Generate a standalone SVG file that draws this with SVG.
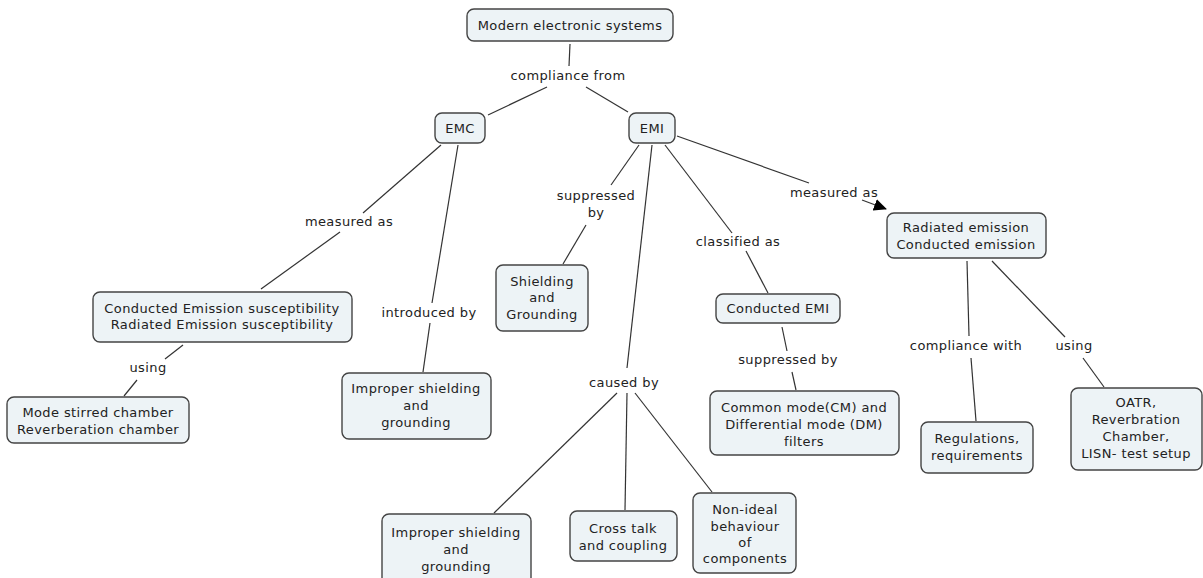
<svg xmlns="http://www.w3.org/2000/svg" width="1203" height="578" viewBox="0 0 1203 578">
<defs>
<style>
.n rect{fill:#edf3f6;stroke:#444;stroke-width:1.4}
text{font-family:"DejaVu Sans","Liberation Sans",sans-serif;font-size:13px;letter-spacing:0.4px;fill:#222;text-anchor:middle}
.c line{stroke:#333;stroke-width:1.2}
</style>
<marker id="ah" markerUnits="userSpaceOnUse" markerWidth="14" markerHeight="12" refX="12" refY="6" orient="auto">
<path d="M0,0 L13,6 L0,12 Z" fill="#000"/>
</marker>
</defs>
<rect width="1203" height="578" fill="#fff"/>
<g class="c" id="connectors">
<line x1="570" y1="44" x2="569" y2="66"/>
<line x1="547" y1="87" x2="488" y2="115"/>
<line x1="586" y1="87" x2="628" y2="112"/>
<line x1="441" y1="145" x2="363" y2="213"/>
<line x1="340" y1="232" x2="261" y2="289"/>
<line x1="458" y1="145" x2="432" y2="303"/>
<line x1="430" y1="323" x2="423" y2="372"/>
<line x1="183" y1="345" x2="165" y2="359"/>
<line x1="137" y1="380" x2="124" y2="396"/>
<line x1="639" y1="145" x2="611" y2="185"/>
<line x1="586" y1="225" x2="563" y2="264"/>
<line x1="652" y1="145" x2="627" y2="368"/>
<line x1="617" y1="393" x2="494" y2="513"/>
<line x1="627" y1="393" x2="625" y2="510"/>
<line x1="635" y1="393" x2="712" y2="492"/>
<line x1="665" y1="145" x2="732" y2="233"/>
<line x1="746" y1="251" x2="768" y2="293"/>
<line x1="677" y1="136" x2="809" y2="183"/>
<line x1="862" y1="200" x2="886" y2="209" marker-end="url(#ah)"/>
<line x1="782" y1="327" x2="787" y2="351"/>
<line x1="792" y1="372" x2="796" y2="390"/>
<line x1="967" y1="261" x2="969" y2="336"/>
<line x1="971" y1="358" x2="976" y2="421"/>
<line x1="992" y1="261" x2="1065" y2="337"/>
<line x1="1083" y1="358" x2="1104" y2="387"/>
</g>
<g id="labels">
<text x="568" y="80">compliance from</text>
<text x="349" y="226">measured as</text>
<text x="429" y="317">introduced by</text>
<text x="148" y="372">using</text>
<text x="596" y="200">suppressed</text>
<text x="596" y="217">by</text>
<text x="624" y="387">caused by</text>
<text x="738" y="246">classified as</text>
<text x="834" y="197">measured as</text>
<text x="788" y="364">suppressed by</text>
<text x="966" y="350">compliance with</text>
<text x="1074" y="350">using</text>
</g>
<g class="n" id="modern"><rect x="467" y="9" width="206" height="32" rx="7"/><text x="570" y="30">Modern electronic systems</text></g>
<g class="n" id="emc"><rect x="435" y="113" width="50" height="30" rx="7"/><text x="460" y="133">EMC</text></g>
<g class="n" id="emi"><rect x="629" y="113" width="46" height="30" rx="7"/><text x="652" y="133">EMI</text></g>
<g class="n" id="susceptibility"><rect x="93" y="292" width="259" height="50" rx="7"/><text x="222" y="313">Conducted Emission susceptibility</text><text x="222" y="329">Radiated Emission susceptibility</text></g>
<g class="n" id="chamber"><rect x="7" y="397" width="182" height="46" rx="7"/><text x="98" y="417">Mode stirred chamber</text><text x="98" y="434">Reverberation chamber</text></g>
<g class="n" id="improper1"><rect x="342" y="373" width="149" height="66" rx="7"/><text x="416" y="393">Improper shielding</text><text x="416" y="410">and</text><text x="416" y="427">grounding</text></g>
<g class="n" id="shielding"><rect x="496" y="265" width="92" height="66" rx="7"/><text x="542" y="286">Shielding</text><text x="542" y="302">and</text><text x="542" y="319">Grounding</text></g>
<g class="n" id="conductedemi"><rect x="716" y="294" width="124" height="29" rx="7"/><text x="778" y="313">Conducted EMI</text></g>
<g class="n" id="filters"><rect x="710" y="391" width="189" height="64" rx="7"/><text x="804" y="412">Common mode(CM) and</text><text x="804" y="429">Differential mode (DM)</text><text x="804" y="446">filters</text></g>
<g class="n" id="emission"><rect x="887" y="213" width="159" height="45" rx="7"/><text x="966" y="232">Radiated emission</text><text x="966" y="249">Conducted emission</text></g>
<g class="n" id="regulations"><rect x="921" y="422" width="112" height="51" rx="7"/><text x="977" y="443">Regulations,</text><text x="977" y="460">requirements</text></g>
<g class="n" id="oatr"><rect x="1071" y="388" width="131" height="82" rx="7"/><text x="1136" y="407">OATR,</text><text x="1136" y="424">Reverbration</text><text x="1136" y="441">Chamber,</text><text x="1136" y="458">LISN- test setup</text></g>
<g class="n" id="improper2"><rect x="382" y="514" width="149" height="72" rx="7"/><text x="456" y="537">Improper shielding</text><text x="456" y="554">and</text><text x="456" y="571">grounding</text></g>
<g class="n" id="crosstalk"><rect x="570" y="511" width="107" height="50" rx="7"/><text x="623" y="533">Cross talk</text><text x="623" y="550">and coupling</text></g>
<g class="n" id="nonideal"><rect x="693" y="493" width="103" height="80" rx="7"/><text x="745" y="514">Non-ideal</text><text x="745" y="531">behaviour</text><text x="745" y="547">of</text><text x="745" y="563">components</text></g>
</svg>
